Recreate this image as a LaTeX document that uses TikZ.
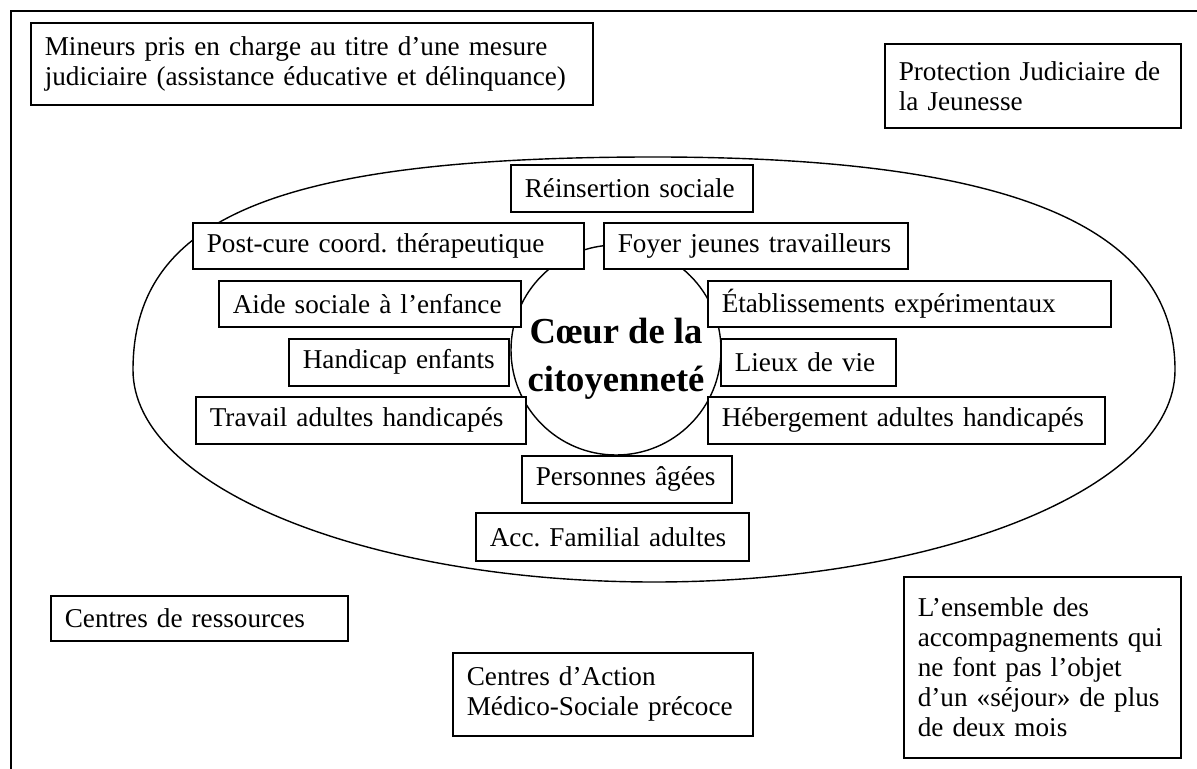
\documentclass[tikz,border=0pt]{standalone}
\usepackage{fontspec}
\setmainfont{Liberation Serif}
\frenchspacing
\begin{document}
\begin{tikzpicture}[x=0.5pt,y=-0.5pt,
  box/.style={draw, fill=white, line width=0.8pt, anchor=north west, align=left,
    inner xsep=7pt, inner ysep=0pt, font=\fontsize{13.6}{15}\selectfont,
    execute at begin node={\hyphenpenalty=10000\frenchspacing}},
  frameline/.style={line width=0.9pt},
  ring/.style={line width=0.7pt},
]
\useasboundingbox (0,0) rectangle (1197,769);
% outer frame (only top and left edges visible)
\coordinate (fbl) at (11,769);
\coordinate (ftl) at (11,11);
\coordinate (ftr) at (1197,11);
\draw[frameline] (fbl) -- (ftl) -- (ftr);
% big oval
\coordinate (ovl) at (133,370);
\coordinate (ovt) at (654,157);
\coordinate (ovr) at (1175,370);
\coordinate (ovb) at (654,582);
\draw[ring] (ovl) .. controls (133,217) and (279,157) .. (ovt)
  .. controls (1008,157) and (1175,225) .. (ovr)
  .. controls (1175,487) and (942,582) .. (ovb)
  .. controls (366,582) and (133,487) .. (ovl) -- cycle;
% central circle
\node[circle, draw, fill=white, ring, minimum size=105pt, inner sep=0pt] (coeur) at (616,350) {};
\node[align=center, inner sep=0pt, font=\bfseries\fontsize{18.3}{24}\selectfont] (coeurtxt) at (616,359)
  {Cœur de la\\citoyenneté};
% boxes
\node[box, text width=267pt, minimum height=41pt] (mineurs) at (30,22)
  {Mineurs pris en charge au titre d’une mesure\\judiciaire (assistance éducative et délinquance)};
\node[box, text width=134pt, minimum height=42pt] (pjj) at (884,43)
  {Protection Judiciaire de\\la Jeunesse};
\node[box, text width=107pt, minimum height=23.5pt] (reinsertion) at (510,164) {Réinsertion sociale};
\node[box, text width=181.5pt, minimum height=23pt] (postcure) at (192,222) {Post-cure coord. thérapeutique};
\node[box, text width=138pt, minimum height=23pt] (foyer) at (603,222) {Foyer jeunes travailleurs};
\node[box, text width=137pt, minimum height=23pt] (aide) at (218,280) {Aide sociale à l’enfance};
\node[box, text width=187.5pt, minimum height=23pt] (etab) at (707,280) {Établissements expérimentaux};
\node[box, text width=96pt, minimum height=23.5pt] (handicap) at (288,338) {Handicap enfants};
\node[box, text width=73.5pt, minimum height=23.5pt] (lieux) at (720,338) {Lieux de vie};
\node[box, text width=151pt, minimum height=23.5pt] (travail) at (195,396) {Travail adultes handicapés};
\node[box, text width=184.5pt, minimum height=23.5pt] (hebergement) at (707,396) {Hébergement adultes handicapés};
\node[box, text width=91pt, minimum height=23.5pt] (personnes) at (521,455) {Personnes âgées};
\node[box, text width=122.5pt, minimum height=24pt] (acc) at (475,512) {Acc. Familial adultes};
\node[box, text width=134.5pt, minimum height=22.5pt] (ressources) at (50,595) {Centres de ressources};
\node[box, text width=136pt, minimum height=41.5pt] (camsp) at (452,652)
  {Centres d’Action\\Médico-Sociale précoce};
\node[box, text width=124.5pt, minimum height=90.5pt] (ensemble) at (903,576)
  {L’ensemble des\\accompagnements qui\\ne font pas l’objet\\d’un «séjour» de plus\\de deux mois};
\end{tikzpicture}
\end{document}
